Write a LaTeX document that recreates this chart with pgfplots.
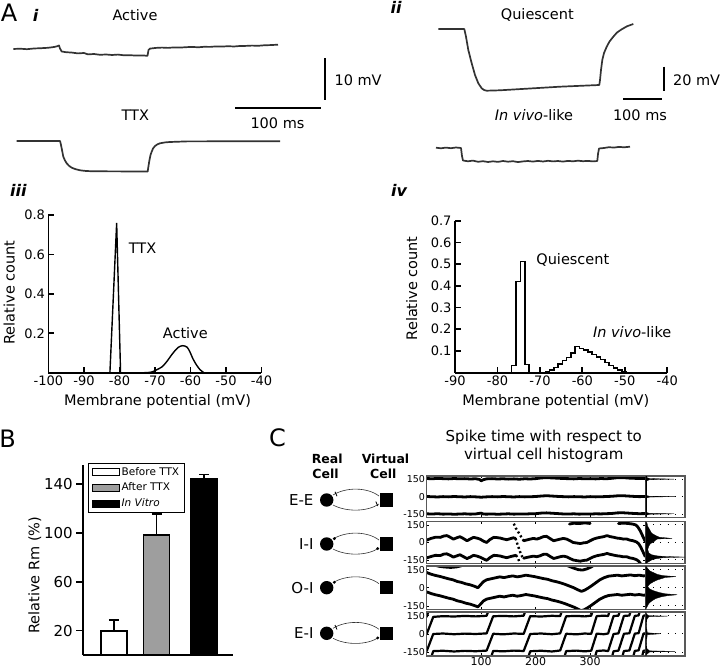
\documentclass[border=0pt]{standalone}
\usepackage{fontspec}
\setmainfont{DejaVu Sans}
\usepackage{pgfplots}
\pgfplotsset{compat=1.18}
\newcommand\fs[1]{\fontsize{#1}{#1}\selectfont}
\pgfplotsset{
  hax/.style={scale only axis, anchor=south west, clip=false,
    axis x line*=bottom, axis y line*=left,
    axis line style={-, line width=1.8pt, black},
    tick align=inside, major tick length=6pt,
    major tick style={line width=1.8pt, black},
    ticklabel style={font=\fs{13}},
    label style={font=\fs{14.5}}},
  raster/.style={scale only axis, anchor=south west, width=219pt, axis on top,
    xmin=0, xmax=402, ymin=-180, ymax=180,
    axis line style={line width=1.3pt, black!65},
    xtick={100,200,300}, xticklabels={}, ytick={-150,0,150}, yticklabels={-150,0,150},
    tick align=inside, major tick length=2.5pt, major tick style={line width=0.6pt, black},
    yticklabel style={font=\fs{9.5}, inner sep=1.5pt}},
  hist/.style={scale only axis, anchor=south west, width=39.3pt,
    xmin=0, xmax=1, ymin=-180, ymax=180,
    axis line style={line width=1.3pt, black!65},
    xtick=\empty, ytick={-150,0,150}, yticklabels={}, major tick length=0pt,
    ymajorgrids, grid style={black, line width=1pt, dash pattern=on 1pt off 6.3pt}},
  band/.style={black, line width=2.8pt, line join=round, line cap=round},
  ramp/.style={black, line width=2.2pt, line join=round, line cap=round},
  slip/.style={black, line width=2.4pt, dash pattern=on 2pt off 2.5pt},
  trace/.style={black!80, line width=1.7pt, line join=round},
  sbar/.style={black, line width=1.8pt},
  ebar/.style={error bars/.cd, y dir=plus, y explicit,
    error bar style={line width=1.8pt, black, solid},
    error mark options={rotate=90, mark size=5pt, line width=1.8pt, black}},
}
\begin{document}
\begin{tikzpicture}[x=1pt,y=1pt]
\useasboundingbox (0,0) rectangle (720,668);
% ---------------- overlay: traces, scale bars, texts, schematic ----------------
\begin{axis}[at={(0pt,0pt)}, anchor=south west, scale only axis, width=720pt, height=668pt,
  xmin=0, xmax=720, ymin=0, ymax=668, y dir=reverse, hide axis, clip=false]
% Active
\addplot[trace] coordinates {(13.3,49.0) (20,48.7) (27,49.2) (34,48.5) (41,48.2) (48,47.8) (54,47.0) (57,46.3) (59,45.5) (60,48.5) (61.7,51.5) (66,52.2) (72,52.6) (78,53.4) (84,53.0) (88,54.4) (94,54.0) (100,54.8) (106,54.5) (112,55.0) (118,54.6) (124,55.3) (130,55.2) (136,55.6) (142,55.4) (147.5,55.8) (148.5,50.0) (150,48.6) (156,47.9) (162,47.6) (168,47.9) (174,47.4) (180,47.6) (186,47.2) (192,46.9) (198,47.3) (204,46.8) (210,46.9) (216,46.4) (222,46.6) (228,46.2) (234,46.5) (240,46.0) (246,45.9) (252,45.6) (258,45.8) (264,45.3) (270,45.1) (278,44.7)};
% TTX
\addplot[trace] coordinates {(16.7,141) (60,141) (61,145) (62,150) (63.3,156.7) (65,160.5) (66.7,163.3) (69,165.8) (71.7,167.7) (75,169) (80,170.3) (86,171) (93.3,171.3) (120,171.4) (147.7,171.5) (148.5,166) (149.3,161) (150.5,155) (151.7,151.7) (153,148.5) (155,146) (157.5,144.3) (160,143.3) (165,142.4) (170,142) (186.7,141.4) (230,141.3) (280,141.3)};
% Quiescent
\addplot[trace] coordinates {(438.3,29) (464.3,29) (466,36.7) (468.3,50) (471.7,63.3) (475,75) (478.3,83.3) (481.7,88.3) (484,90) (486.7,90.7) (500,90.3) (526.7,88.7) (560,86.7) (599.3,85) (600,80) (601,70) (602.3,60) (604,53) (606.7,46.7) (609.5,41.5) (613.3,36.7) (617,32.5) (621.7,29.3) (627,26.3) (633.3,24)};
% In vivo-like
\addplot[trace] coordinates {(436,147.7) (441,148.3) (446,147.6) (451,148.2) (456,147.5) (461,148) (462,156) (463,160.5) (468,161.3) (473,160.6) (478,161.8) (483,161.2) (488,162.0) (493,161.3) (498,161.9) (503,161.0) (508,161.7) (513,161.2) (518,162.1) (523,161.4) (528,161.0) (533,161.6) (538,160.9) (543,161.5) (548,160.8) (553,161.4) (558,161.0) (563,161.6) (568,160.9) (573,161.3) (578,160.7) (583,161.2) (588,160.9) (593,161.4) (597.3,161.0) (598,154) (599,148.5) (604,148) (609,147.2) (614,147.6) (619,146.9) (624,147.3) (630,146.7)};
% scale bars
\addplot[sbar] coordinates {(325,58.3) (325,100)};
\addplot[sbar] coordinates {(235,108.3) (321,108.3)};
\addplot[sbar] coordinates {(664,66.7) (664,90.7)};
\addplot[sbar] coordinates {(623.3,99) (661.7,99)};
% panel letters
\node[font=\fs{24}] at (axis cs:9,12.8) {A};
\node[font=\fs{24}] at (axis cs:7.5,438.5) {B};
\node[font=\fs{24}] at (axis cs:277.5,437.5) {C};
\node[font=\fs{16}\bfseries\itshape] at (axis cs:35.7,15) {i};
\node[font=\fs{16}\bfseries\itshape] at (axis cs:396,7) {ii};
\node[font=\fs{16}\bfseries\itshape] at (axis cs:18.3,190) {iii};
\node[font=\fs{16}\bfseries\itshape] at (axis cs:399,190) {iv};
% A texts
\node[font=\fs{14.5}] at (axis cs:135,15) {Active};
\node[font=\fs{14.5}] at (axis cs:135.3,115) {TTX};
\node[font=\fs{14.5}, anchor=west] at (axis cs:331,80) {10 mV};
\node[font=\fs{14.5}] at (axis cs:277.5,123.3) {100 ms};
\node[font=\fs{14.5}] at (axis cs:537.3,15) {Quiescent};
\node[font=\fs{14.5}] at (axis cs:534,115) {\textit{In vivo}-like};
\node[font=\fs{14.5}, anchor=west] at (axis cs:669.5,80.7) {20 mV};
\node[font=\fs{14.5}] at (axis cs:640,115) {100 ms};
% iii / iv annotations
\node[font=\fs{14.5}] at (axis cs:142.5,248.3) {TTX};
\node[font=\fs{14.5}] at (axis cs:185.3,332.7) {Active};
\node[font=\fs{14.5}] at (axis cs:572.8,260) {Quiescent};
\node[font=\fs{14.5}] at (axis cs:632.2,332.3) {\textit{In vivo}-like};
% C title and headers
\node[font=\fs{15}] at (axis cs:543.8,437) {Spike time with respect to};
\node[font=\fs{15}] at (axis cs:543.7,455.7) {virtual cell histogram};
\node[font=\fs{12.5}\bfseries] at (axis cs:327.2,459) {Real};
\node[font=\fs{12.5}\bfseries] at (axis cs:325.5,474.3) {Cell};
\node[font=\fs{12.5}\bfseries] at (axis cs:385.5,459) {Virtual};
\node[font=\fs{12.5}\bfseries] at (axis cs:383.3,474.3) {Cell};
% C schematic rows
\node[font=\fs{15}, anchor=east] at (axis cs:317,500) {E-E};
\node[font=\fs{15}, anchor=east] at (axis cs:317,544) {I-I};
\node[font=\fs{15}, anchor=east] at (axis cs:317,587.7) {O-I};
\node[font=\fs{15}, anchor=east] at (axis cs:317,633.3) {E-I};
% E-E
\fill (axis cs:326.7,500) circle[radius=6.7pt];
\fill (axis cs:380,493.3) rectangle (axis cs:393.4,506.7);
\draw[line width=0.6pt, black!80] (axis cs:333,495) .. controls (axis cs:346,487) and (axis cs:367,487) .. (axis cs:379,496);
\draw[line width=0.6pt, black!80] (axis cs:333,505) .. controls (axis cs:346,512) and (axis cs:367,512) .. (axis cs:379,504);
\draw[line width=0.8pt] (axis cs:335,491.8) -- (axis cs:337,496.2);
\draw[line width=0.8pt] (axis cs:375.8,501.6) -- (axis cs:377.8,506);
% I-I
\fill (axis cs:326.7,544) circle[radius=6.7pt];
\fill (axis cs:380,537.3) rectangle (axis cs:393.4,550.7);
\draw[line width=0.6pt, black!80] (axis cs:333,539) .. controls (axis cs:346,531) and (axis cs:367,531) .. (axis cs:379,540);
\draw[line width=0.6pt, black!80] (axis cs:333,549) .. controls (axis cs:346,556) and (axis cs:367,556) .. (axis cs:379,548);
\fill (axis cs:334.3,538.6) circle[radius=1.6pt];
\fill (axis cs:377.7,548.6) circle[radius=1.6pt];
% O-I
\fill (axis cs:326.7,587.7) circle[radius=6.7pt];
\fill (axis cs:380,581) rectangle (axis cs:393.4,594.4);
\draw[line width=0.6pt, black!80] (axis cs:333,582.7) .. controls (axis cs:346,574.7) and (axis cs:367,574.7) .. (axis cs:379,583.7);
\fill (axis cs:334.3,582.3) circle[radius=1.6pt];
% E-I
\fill (axis cs:326.7,633.3) circle[radius=6.7pt];
\fill (axis cs:380,626.6) rectangle (axis cs:393.4,640);
\draw[line width=0.6pt, black!80] (axis cs:333,628.3) .. controls (axis cs:346,620.3) and (axis cs:367,620.3) .. (axis cs:379,629.3);
\draw[line width=0.6pt, black!80] (axis cs:333,638.3) .. controls (axis cs:346,645.3) and (axis cs:367,645.3) .. (axis cs:379,637.3);
\draw[line width=0.8pt] (axis cs:335,625.1) -- (axis cs:337,629.5);
\fill (axis cs:377.7,637.9) circle[radius=1.6pt];
\end{axis}

% ---------------- iii ----------------
\begin{axis}[hax, at={(48.5pt,295.3pt)}, width=213pt, height=157.7pt,
  xmin=-100, xmax=-40, ymin=0, ymax=0.8,
  xtick={-100,-90,-80,-70,-60,-50,-40}, xticklabels={-100,-90,-80,-70,-60,-50,-40},
  ytick={0.2,0.4,0.6,0.8}, yticklabels={0.2,0.4,0.6,0.8},
  xlabel={Membrane potential (mV)}, ylabel={Relative count},
  xlabel style={at={(axis description cs:0.512,-0.184)}, anchor=center},
  ylabel style={at={(axis description cs:-0.1845,0.5086)}, anchor=center}]
\addplot[black, line width=1.4pt] coordinates {(-82.7,0) (-80.8,0.76) (-79.7,0)};
\addplot[black, line width=1.4pt, smooth] coordinates {(-73,0) (-71,0.003) (-69.5,0.015) (-68,0.03) (-66.7,0.056) (-65,0.098) (-63.5,0.128) (-62.2,0.137) (-61,0.13) (-60.2,0.107) (-59.3,0.07) (-58.3,0.039) (-57.3,0.015) (-56.2,0)};
\end{axis}

% ---------------- iv ----------------
\begin{axis}[hax, at={(455pt,295.3pt)}, width=212.3pt, height=152pt,
  xmin=-90, xmax=-40, ymin=0, ymax=0.7,
  xtick={-90,-80,-70,-60,-50,-40}, xticklabels={-90,-80,-70,-60,-50,-40},
  ytick={0.1,0.2,0.3,0.4,0.5,0.6,0.7}, yticklabels={0.1,0.2,0.3,0.4,0.5,0.6,0.7},
  xlabel={Membrane potential (mV)}, ylabel={Relative count},
  xlabel style={at={(axis description cs:0.475,-0.191)}, anchor=center},
  ylabel style={at={(axis description cs:-0.204,0.555)}, anchor=center}]
\addplot[black, line width=1.4pt, const plot] coordinates {(-76.65,0) (-76.65,0.032) (-75.6,0.419) (-74.55,0.511) (-73.5,0.039) (-72.6,0) (-72.6,0)};
\addplot[black, line width=1.4pt, const plot] coordinates {(-68.7,0.005) (-67.7,0.012) (-66.7,0.025) (-65.7,0.04) (-64.7,0.055) (-63.7,0.07) (-62.7,0.09) (-61.7,0.122) (-60.7,0.112) (-59.7,0.105) (-58.7,0.096) (-57.7,0.085) (-56.7,0.073) (-55.7,0.06) (-54.7,0.046) (-53.7,0.034) (-52.7,0.022) (-51.7,0.012) (-50.7,0.005) (-49.7,0)};
\end{axis}

% ---------------- B ----------------
\begin{axis}[scale only axis, anchor=south west, at={(83.3pt,13pt)}, width=149.7pt, height=190pt,
  xmin=83.3, xmax=233, ymin=0, ymax=155.7,
  axis x line*=bottom, axis y line*=left, axis line style={-, line width=1.8pt, black},
  xtick=\empty, ytick={20,60,100,140}, yticklabels={20,60,100,140},
  tick align=outside, major tick length=7pt, major tick style={line width=1.8pt, black},
  yticklabel style={font=\fs{15}},
  ylabel={Relative Rm (\%)}, ylabel style={font=\fs{14.5}, at={(axis description cs:-0.323,0.42)}, anchor=center},
  ybar, bar width=26pt,
  legend style={at={(axis description cs:0.033,1.012)}, anchor=north west, font=\fs{10.5},
    draw=black, line width=1.2pt, inner xsep=3pt, inner ysep=2pt, row sep=2.2pt, cells={anchor=west}},
  legend image code/.code={\draw[#1, line width=0.8pt] (0pt,-3.5pt) rectangle (27pt,3.5pt);}]
\addplot[draw=black, fill=white, line width=1.8pt, bar shift=0pt, ebar] coordinates {(113.8,19.6) +- (0,9)};
\addplot[draw=black, fill=black!38, line width=1.8pt, bar shift=0pt, ebar] coordinates {(156.5,98.2) +- (0,17.2)};
\addplot[draw=black, fill=black, line width=1.8pt, bar shift=0pt, ebar] coordinates {(204.2,144) +- (0,3.9)};
\legend{Before TTX, After TTX, \textit{In Vitro}}
\end{axis}

% ---------------- C rasters ----------------
% E-E
\begin{axis}[raster, at={(426.7pt,150.5pt)}, height=41.5pt]
\addplot[band] coordinates {(0,158) (10,156) (20,159) (30,157) (40,155) (50,158) (60,156) (70,157) (80,154) (90,156) (97,150) (100,138) (104,148) (110,155) (120,157) (130,154) (140,156) (150,153) (160,155) (170,152) (180,156) (190,154) (200,157) (210,163) (220,166) (230,163) (240,161) (250,158) (260,157) (270,155) (280,158) (290,156) (300,157) (310,155) (320,158) (330,156) (340,160) (350,165) (360,166) (370,162) (380,160) (390,158) (402,160)};
\addplot[band] coordinates {(0,2) (10,0) (20,-2) (30,1) (40,-1) (50,2) (60,0) (70,-2) (80,1) (90,-1) (100,-4) (110,-1) (120,1) (130,-1) (140,2) (150,0) (160,-2) (170,1) (180,-1) (190,0) (200,2) (210,6) (220,9) (230,6) (240,3) (250,1) (260,-1) (270,1) (280,0) (290,-2) (300,1) (310,-1) (320,0) (330,2) (340,4) (350,8) (360,9) (370,6) (380,3) (390,1) (402,2)};
\addplot[band] coordinates {(0,-148) (10,-150) (20,-147) (30,-151) (40,-149) (50,-152) (60,-150) (70,-148) (80,-151) (90,-149) (100,-142) (104,-150) (110,-151) (120,-149) (130,-152) (140,-150) (150,-148) (160,-151) (170,-149) (180,-150) (190,-148) (200,-147) (210,-142) (220,-140) (230,-143) (240,-146) (250,-149) (260,-150) (270,-148) (280,-151) (290,-149) (300,-150) (310,-148) (320,-149) (330,-147) (340,-145) (350,-140) (360,-139) (370,-142) (380,-145) (390,-147) (402,-146)};
\end{axis}
\begin{axis}[hist, at={(645.7pt,150.5pt)}, height=41.5pt]
\addplot[black, fill=black, line width=0.3pt] coordinates {(0,135) (0.1,148) (0.72,153) (0.1,158) (0,170)};
\addplot[black, fill=black, line width=0.3pt] coordinates {(0,-12) (0.1,-3) (0.75,1) (0.1,4) (0,12)};
\addplot[black, fill=black, line width=0.3pt] coordinates {(0,-162) (0.1,-152) (0.72,-148) (0.1,-144) (0,-135)};
\addplot[black, line width=1.6pt] coordinates {(0,-180) (0,180)};
\end{axis}
% I-I
\begin{axis}[raster, at={(426.7pt,104.5pt)}, height=42pt]
\addplot[band] coordinates {(0,20) (8,35) (16,45) (25,44) (31,55) (37,59) (43,45) (49,29) (55,40) (61,50) (67,35) (74,15) (80,30) (86,44) (92,38) (98,29) (104,12) (110,0) (116,25) (123,44) (129,42) (135,38) (141,30) (147,24) (153,32) (159,40) (163,35)};
\addplot[slip] coordinates {(163,35) (167,-20) (171,-75) (175,-118) (178,-135)};
\addplot[band] coordinates {(178,-135) (184,-128) (190,-122) (196,-117) (202,-122) (208,-114) (214,-102) (220,-100) (226,-118) (233,-137) (239,-130) (245,-122) (251,-117) (257,-123) (263,-137) (269,-150) (276,-156) (282,-160) (288,-154) (294,-151) (300,-137) (306,-123) (312,-114) (318,-108) (325,-102) (331,-94) (337,-102) (343,-108) (349,-114) (355,-117) (361,-123) (367,-122) (373,-132) (379,-137) (385,-147) (389,-160) (393,-185)};
\addplot[slip] coordinates {(156,195) (160,160) (164,120) (168,90) (172,60) (175,35) (178,15)};
\addplot[band] coordinates {(178,15) (184,22) (190,29) (196,35) (202,29) (208,38) (214,50) (220,53) (226,35) (233,15) (239,22) (245,29) (251,35) (257,29) (263,15) (269,0) (276,-5) (282,-9) (288,-3) (294,0) (300,15) (306,29) (312,38) (318,44) (325,50) (331,59) (337,50) (343,45) (349,38) (355,35) (361,29) (367,30) (373,20) (379,15) (385,5) (389,-10) (393,-40) (397,-80) (401,-120)};
\addplot[band] coordinates {(0,-132) (8,-120) (16,-110) (25,-112) (31,-100) (37,-97) (43,-110) (49,-125) (55,-115) (61,-105) (67,-120) (74,-138) (80,-125) (86,-110) (92,-116) (98,-126) (104,-140) (110,-153) (116,-130) (123,-110) (129,-112) (135,-116) (141,-124) (147,-130) (153,-122) (159,-115) (164,-110)};
\addplot[slip] coordinates {(164,-110) (168,-140) (172,-190)};
\addplot[band] coordinates {(262,158) (270,165) (280,162) (290,168) (300,163)};
\addplot[band] coordinates {(352,162) (360,166) (370,163) (378,158) (384,150) (388,130) (392,100) (396,60) (400,20) (402,5)};
\end{axis}
\begin{axis}[hist, at={(645.7pt,104.5pt)}, height=42pt]
\addplot[black, fill=black, line width=0.3pt] coordinates {(0,180) (0.03,170) (0.05,140) (0.1,110) (0.15,80) (0.25,60) (0.35,45) (0.67,35) (0.3,30) (0.25,20) (0.2,5) (0.12,-10) (0.08,-30) (0.05,-60) (0.08,-90) (0.15,-105) (0.3,-115) (0.5,-120) (1.0,-125) (0.45,-130) (0.25,-140) (0.15,-150) (0.05,-170) (0,-180)};
\end{axis}
% O-I
\begin{axis}[raster, at={(426.7pt,58.5pt)}, height=43.5pt]
\addplot[band] coordinates {(0,126) (8,112) (16,102) (24,94) (32,84) (40,74) (48,66) (56,52) (64,44) (72,32) (80,24) (88,12) (94,0) (98,20) (104,50) (110,66) (118,74) (126,82) (134,90) (142,84) (150,92) (158,98) (166,90) (174,96) (182,104) (190,98) (198,92) (206,84) (214,76) (222,70) (230,58) (238,50) (246,40) (254,28) (262,14) (270,0) (278,-18) (284,-30) (290,-20) (296,-4) (302,14) (310,40) (318,66) (326,84) (334,96) (342,100) (350,104) (358,98) (366,102) (374,106) (382,100) (390,104) (398,98) (402,100)};
\addplot[band] coordinates {(0,-34) (8,-48) (16,-58) (24,-66) (32,-76) (40,-86) (48,-94) (56,-108) (64,-116) (72,-128) (80,-136) (88,-148) (94,-158) (98,-140) (104,-110) (110,-94) (118,-86) (126,-78) (134,-70) (142,-76) (150,-68) (158,-62) (166,-70) (174,-64) (182,-56) (190,-62) (198,-68) (206,-76) (214,-84) (222,-90) (230,-102) (238,-110) (246,-120) (254,-132) (262,-146) (270,-160) (278,-178) (284,-190) (290,-180) (296,-164) (302,-146) (310,-120) (318,-94) (326,-76) (334,-64) (342,-60) (350,-56) (358,-62) (366,-58) (374,-54) (382,-60) (390,-56) (398,-62) (402,-60)};
\addplot[band] coordinates {(14,188) (22,178) (32,172) (44,168) (54,172) (62,180) (68,190)};
\addplot[band] coordinates {(255,190) (262,176) (270,162) (278,150) (286,146) (294,156) (302,172) (308,190)};
\end{axis}
\begin{axis}[hist, at={(645.7pt,58.5pt)}, height=43.5pt]
\addplot[black, fill=black, line width=0.3pt] coordinates {(0,180) (0.05,160) (0.1,140) (0.2,125) (0.3,110) (0.45,100) (0.77,92) (0.5,85) (0.4,75) (0.3,65) (0.2,50) (0.1,30) (0.05,10) (0.1,-10) (0.2,-25) (0.35,-40) (0.5,-50) (0.8,-58) (0.55,-66) (0.4,-75) (0.25,-90) (0.15,-110) (0.08,-130) (0.03,-160) (0,-180)};
\end{axis}
% E-I
\begin{axis}[raster, at={(426.7pt,12pt)}, height=44pt, xticklabels={100,200,300}, xticklabel style={font=\fs{11}, inner sep=0.8pt}]
\addplot[ramp] coordinates {(0,140) (12,300)};
\addplot[ramp] coordinates {(0,0) (12,140) (30,146) (50,143) (70,148) (90,144) (110,149) (122,300)};
\addplot[ramp] coordinates {(0,-140) (12,0) (30,4) (50,-2) (70,3) (90,0) (110,5) (122,145) (140,148) (160,144) (178,150) (190,300)};
\addplot[ramp] coordinates {(0,-300) (12,-140) (30,-137) (50,-143) (70,-138) (90,-141) (110,-136) (122,2) (140,-3) (160,4) (178,1) (190,146) (210,143) (230,149) (245,146) (256,300)};
\addplot[ramp] coordinates {(110,-300) (122,-138) (140,-142) (160,-136) (178,-139) (190,0) (210,4) (230,-2) (245,5) (256,145) (275,148) (290,144) (302,150) (312,300)};
\addplot[ramp] coordinates {(178,-300) (190,-141) (210,-137) (230,-143) (245,-135) (256,2) (275,-3) (290,4) (302,1) (312,146) (325,150) (333,147) (343,300)};
\addplot[ramp] coordinates {(245,-300) (256,-140) (275,-136) (290,-142) (302,-137) (312,3) (325,-2) (333,4) (343,147) (352,150) (362,300)};
\addplot[ramp] coordinates {(302,-300) (312,-139) (325,-135) (333,-140) (343,0) (352,5) (362,148) (372,151) (382,300)};
\addplot[ramp] coordinates {(333,-300) (343,-141) (352,-136) (362,2) (372,6) (382,148) (389,152) (398,300)};
\addplot[ramp] coordinates {(352,-300) (362,-139) (372,-135) (382,3) (389,7) (398,150) (402,152)};
\addplot[ramp] coordinates {(372,-300) (382,-138) (389,-134) (398,4) (402,6)};
\addplot[ramp] coordinates {(389,-300) (398,-137) (402,-135)};
\end{axis}
\begin{axis}[hist, at={(645.7pt,12pt)}, height=44pt]
\addplot[black, fill=black, line width=0.3pt] coordinates {(0,180) (0.03,160) (0.08,150) (0.55,146) (0.08,142) (0.03,120) (0.02,60) (0.04,10) (0.38,2) (0.04,-6) (0.02,-60) (0.03,-120) (0.1,-138) (0.75,-142) (0.1,-147) (0.03,-165) (0,-180)};
\end{axis}
\end{tikzpicture}
\end{document}
